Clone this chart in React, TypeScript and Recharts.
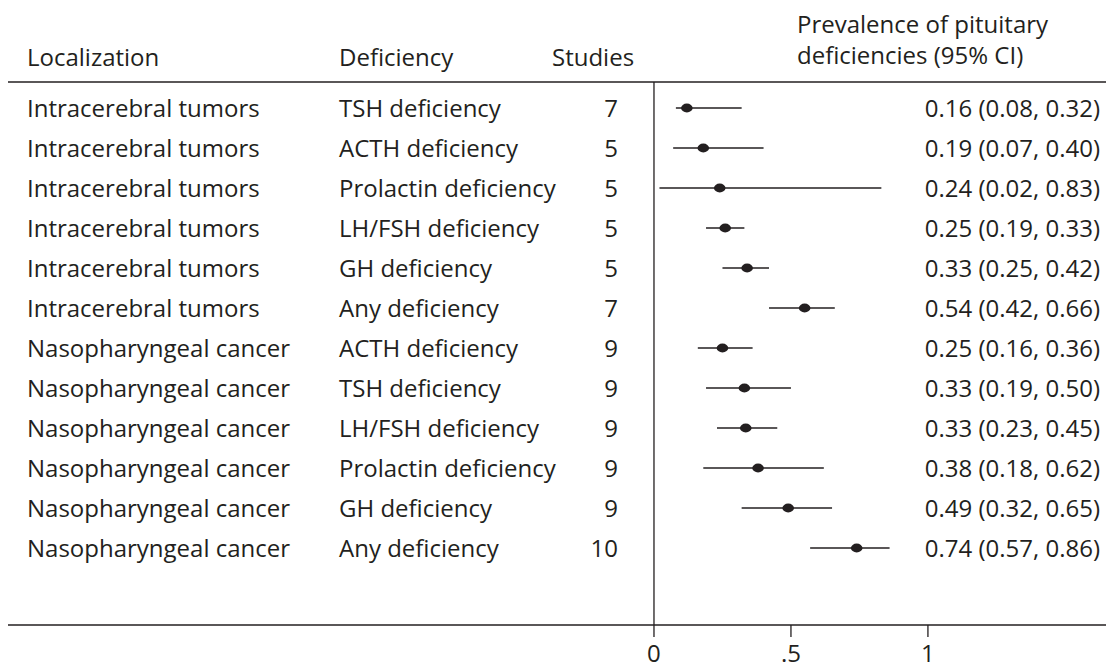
import React from "react";
import { ScatterChart, Scatter, XAxis, YAxis, ErrorBar, ReferenceLine } from "recharts";

const localizations = [
  "Intracerebral tumors", "Intracerebral tumors", "Intracerebral tumors", "Intracerebral tumors",
  "Intracerebral tumors", "Intracerebral tumors", "Nasopharyngeal cancer", "Nasopharyngeal cancer",
  "Nasopharyngeal cancer", "Nasopharyngeal cancer", "Nasopharyngeal cancer", "Nasopharyngeal cancer",
];
const deficiencies = [
  "TSH deficiency", "ACTH deficiency", "Prolactin deficiency", "LH/FSH deficiency", "GH deficiency",
  "Any deficiency", "ACTH deficiency", "TSH deficiency", "LH/FSH deficiency", "Prolactin deficiency",
  "GH deficiency", "Any deficiency",
];
const studies = [7, 5, 5, 5, 5, 7, 9, 9, 9, 9, 9, 10];
const estimates = [0.16, 0.19, 0.24, 0.25, 0.33, 0.54, 0.25, 0.33, 0.33, 0.38, 0.49, 0.74];
const lower = [0.08, 0.07, 0.02, 0.19, 0.25, 0.42, 0.16, 0.19, 0.23, 0.18, 0.32, 0.57];
const upper = [0.32, 0.4, 0.83, 0.33, 0.42, 0.66, 0.36, 0.5, 0.45, 0.62, 0.65, 0.86];
// where the dots sit in the picture
const dotPositions = [0.12, 0.18, 0.24, 0.26, 0.34, 0.55, 0.25, 0.33, 0.335, 0.38, 0.49, 0.74];
const xTicks = [0, 0.5, 1];
const rowTicks = [1, 2, 3, 4, 5, 6, 7, 8, 9, 10, 11, 12];

const rows = dotPositions.map((p, i) => ({
  row: i + 1,
  est: p,
  err: [p - lower[i], upper[i] - p],
}));

const FONT = "'Open Sans', 'Noto Sans', sans-serif";
const INK = "#231f20";
const FS = 24;

const fmt = (v: number) => v.toFixed(2);

const RowTick = (props: any) => {
  const { y, payload } = props;
  const i = Math.round(payload.value) - 1;
  if (i < 0 || i >= localizations.length) return null;
  const base = y + 8.5;
  return (
    <g fontFamily={FONT} fontSize={FS} fill={INK}>
      <text x={27} y={base}>{localizations[i]}</text>
      <text x={339} y={base}>{deficiencies[i]}</text>
      <text x={618} y={base} textAnchor="end">{studies[i]}</text>
      <text x={1100} y={base} textAnchor="end">
        {`${fmt(estimates[i])} (${fmt(lower[i])}, ${fmt(upper[i])})`}
      </text>
    </g>
  );
};

const Dot = (props: any) => <ellipse cx={props.cx} cy={props.cy} rx={5.8} ry={4.4} fill={INK} />;

export default function App() {
  return (
    <div>
      <style>{`body{margin:0}`}</style>
      <ScatterChart width={1108} height={668} margin={{ top: 81, right: 2, bottom: 0, left: 7 }}>
        <XAxis
          type="number"
          dataKey="est"
          domain={[-2.358, 1.65]}
          allowDataOverflow
          ticks={xTicks}
          tickFormatter={(v: number) => (v === 0.5 ? ".5" : String(v))}
          height={43}
          tickSize={12}
          tickMargin={8}
          axisLine={{ stroke: INK, strokeWidth: 1.5 }}
          tickLine={{ stroke: INK, strokeWidth: 1.3 }}
          tick={{ fill: INK, fontSize: FS, fontFamily: FONT }}
        />
        <XAxis
          xAxisId="top"
          orientation="top"
          type="number"
          domain={[-2.358, 1.65]}
          allowDataOverflow
          height={1}
          tick={false}
          tickLine={false}
          axisLine={{ stroke: INK, strokeWidth: 1.5 }}
        />
        <YAxis
          type="number"
          dataKey="row"
          domain={[0.35, 13.925]}
          allowDataOverflow
          reversed
          ticks={rowTicks}
          interval={0}
          width={1}
          axisLine={false}
          tickLine={false}
          tick={(p: any) => <RowTick {...p} />}
        />
        <ReferenceLine x={0} stroke={INK} strokeWidth={1.3} />
        <Scatter data={rows} shape={<Dot />} isAnimationActive={false}>
          <ErrorBar dataKey="err" direction="x" width={0} stroke={INK} strokeWidth={1.3} />
        </Scatter>
        <g fontFamily={FONT} fontSize={FS} fill={INK}>
          <text x={27} y={66}>Localization</text>
          <text x={339} y={66}>Deficiency</text>
          <text x={552} y={66}>Studies</text>
          <text x={797} y={33}>Prevalence of pituitary</text>
          <text x={797} y={64}>deficiencies (95% CI)</text>
        </g>
      </ScatterChart>
    </div>
  );
}
